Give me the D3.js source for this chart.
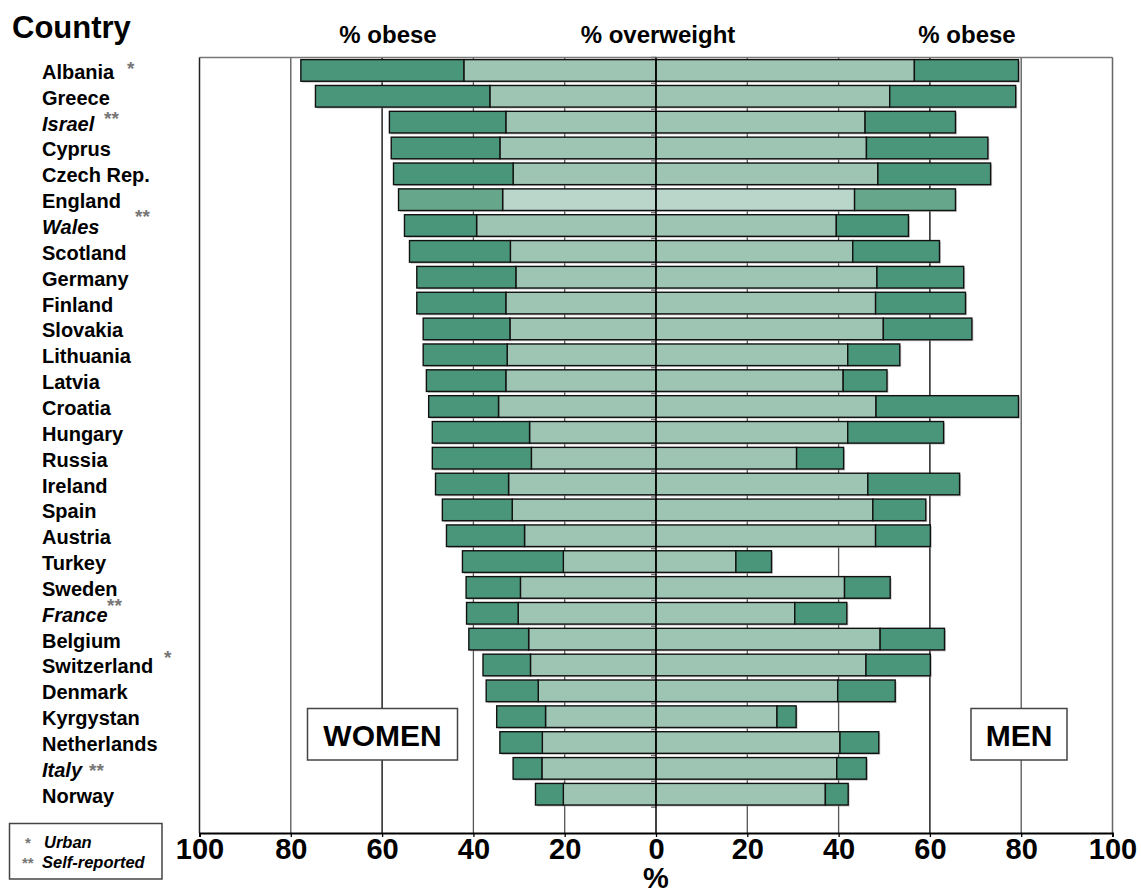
<!DOCTYPE html>
<html>
<head>
<meta charset="utf-8">
<script src="https://cdn.jsdelivr.net/npm/d3@7"></script>
<style>
  html, body { margin: 0; padding: 0; background: #fff; }
  svg { display: block; font-family: "Liberation Sans", Arial, sans-serif; }
</style>
</head>
<body>
<svg id="chart" width="1141" height="893"></svg>
<script>
// ---------- data ----------
const countries = ["Albania","Greece","Israel","Cyprus","Czech Rep.","England","Wales","Scotland","Germany","Finland",
  "Slovakia","Lithuania","Latvia","Croatia","Hungary","Russia","Ireland","Spain","Austria","Turkey",
  "Sweden","France","Belgium","Switzerland","Denmark","Kyrgystan","Netherlands","Italy","Norway"];
const italicCountries = ["Israel","Wales","France","Italy"];
const highlightCountries = ["England"];

const womenOverweight = [42.1,36.4,32.9,34.2,31.3,33.6,39.3,31.9,30.7,32.9,
  32.0,32.6,32.9,34.5,27.7,27.3,32.3,31.5,28.8,20.3,
  29.7,30.2,27.9,27.5,25.8,24.2,24.9,25.0,20.3];
const womenObese = [35.7,38.2,25.5,23.8,26.2,22.8,15.8,22.1,21.7,19.5,
  19.0,18.4,17.4,15.3,21.3,21.7,16.0,15.3,17.1,22.1,
  11.9,11.3,13.1,10.4,11.4,10.7,9.3,6.3,6.1];
const menOverweight = [56.6,51.2,45.8,46.1,48.6,43.5,39.5,43.1,48.4,48.1,
  49.8,42.0,41.0,48.2,42.0,30.8,46.4,47.5,48.1,17.5,
  41.3,30.4,49.1,46.0,39.8,26.5,40.3,39.6,37.1];
const menObese = [22.8,27.6,19.8,26.6,24.7,22.1,15.8,19.0,19.0,19.7,
  19.4,11.4,9.6,31.2,21.0,10.3,20.1,11.6,12.0,7.8,
  10.0,11.4,14.1,14.1,12.6,4.2,8.5,6.5,5.0];
const xTicks = [-100,-80,-60,-40,-20,0,20,40,60,80,100];
const gridValues = [-80,-60,-40,-20,20,40,60,80];

// ---------- setup ----------
const svg = d3.select("#chart");
const plotTop = 57.5, plotBottom = 833, plotLeft = 199.5, plotRight = 1112.5;
const x = d3.scaleLinear().domain([-100, 100]).range([plotLeft, plotRight]);
const slots = d3.range(countries.length + 1);
const y = d3.scaleBand().domain(slots).range([plotTop, plotBottom]).paddingInner(0.164).paddingOuter(0.082);
const bw = y.bandwidth();

const colObese = "#4a967a", colOver = "#9ec4b4";
const colObeseHi = "#66a78b", colOverHi = "#bad6ca";

// gridlines
svg.append("g").selectAll("line").data(gridValues).join("line")
  .attr("x1", d => x(d)).attr("x2", d => x(d))
  .attr("y1", plotTop).attr("y2", plotBottom)
  .attr("stroke", d => Math.abs(d) === 60 ? "#000" : "#555")
  .attr("stroke-width", 1.3);

// frame
svg.append("line").attr("x1", plotLeft).attr("x2", plotRight).attr("y1", plotTop).attr("y2", plotTop).attr("stroke", "#777").attr("stroke-width", 1.5);
svg.append("line").attr("x1", plotRight).attr("x2", plotRight).attr("y1", plotTop).attr("y2", plotBottom).attr("stroke", "#666").attr("stroke-width", 1.5);
svg.append("line").attr("x1", plotLeft).attr("x2", plotLeft).attr("y1", plotTop).attr("y2", plotBottom).attr("stroke", "#222").attr("stroke-width", 1.5);

// center ticks at band boundaries
svg.append("g").selectAll("line").data(d3.range(countries.length + 1)).join("line")
  .attr("x1", x(0) - 5).attr("x2", x(0))
  .attr("y1", i => y(i) - y.step() * 0.082).attr("y2", i => y(i) - y.step() * 0.082)
  .attr("stroke", "#777").attr("stroke-width", 1.5);

// bars
const rows = countries.map((c, i) => ({
  c, i, wo: womenOverweight[i], wb: womenObese[i], mo: menOverweight[i], mb: menObese[i],
  hi: highlightCountries.includes(c)
}));

const g = svg.append("g");
g.selectAll("rect.shadow").data(rows).join("rect")
  .attr("class", "shadow")
  .attr("x", d => x(-(d.wo + d.wb)) + 1.5)
  .attr("y", d => y(d.i) + 1.5)
  .attr("width", d => x(d.mo + d.mb) - x(-(d.wo + d.wb)))
  .attr("height", bw)
  .attr("fill", "#999").attr("opacity", 0.55);

function seg(cls, x0f, x1f, colf) {
  g.selectAll("rect." + cls).data(rows).join("rect")
    .attr("class", cls)
    .attr("x", d => Math.min(x(x0f(d)), x(x1f(d))))
    .attr("y", d => y(d.i))
    .attr("width", d => Math.abs(x(x1f(d)) - x(x0f(d))))
    .attr("height", bw)
    .attr("fill", colf)
    .attr("stroke", "#111").attr("stroke-width", 1.4);
}
seg("wo", d => 0, d => -d.wo, d => d.hi ? colOverHi : colOver);
seg("wb", d => -d.wo, d => -(d.wo + d.wb), d => d.hi ? colObeseHi : colObese);
seg("mo", d => 0, d => d.mo, d => d.hi ? colOverHi : colOver);
seg("mb", d => d.mo, d => d.mo + d.mb, d => d.hi ? colObeseHi : colObese);

// center line
svg.append("line").attr("x1", x(0)).attr("x2", x(0)).attr("y1", plotTop).attr("y2", plotBottom)
  .attr("stroke", "#000").attr("stroke-width", 1.5);

// bottom axis
const axis = d3.axisBottom(x).tickValues(xTicks).tickFormat(d => Math.abs(d)).tickSize(4).tickPadding(1);
const ax = svg.append("g").attr("transform", `translate(0,${plotBottom})`).call(axis);
ax.select(".domain").attr("stroke", "#000").attr("stroke-width", 1.8);
ax.selectAll(".tick line").attr("stroke", "#000").attr("stroke-width", 1.3);
ax.selectAll(".tick text").attr("font-size", 29).attr("font-weight", "bold").attr("fill", "#000")
  .attr("font-family", "Liberation Sans, Arial, sans-serif");

svg.append("text").attr("x", x(0)).attr("y", 888).attr("text-anchor", "middle")
  .attr("font-size", 29).attr("font-weight", "bold").text("%");

// headers
svg.append("text").attr("x", 12).attr("y", 38).attr("font-size", 31).attr("font-weight", "bold").text("Country");
const headers = [{t: "% obese", cx: 388}, {t: "% overweight", cx: 658}, {t: "% obese", cx: 967}];
svg.append("g").selectAll("text").data(headers).join("text")
  .attr("x", d => d.cx).attr("y", 43).attr("text-anchor", "middle")
  .attr("font-size", 24).attr("font-weight", "bold").text(d => d.t);

// country labels
svg.append("g").selectAll("text").data(rows).join("text")
  .attr("x", 42).attr("y", d => y(d.i) + bw / 2 + 8.5)
  .attr("font-size", 20).attr("font-weight", "bold")
  .attr("font-style", d => italicCountries.includes(d.c) ? "italic" : "normal")
  .text(d => d.c);

// markers (asterisks)
const marks = [
  {t: "*", x: 127, y: 75},
  {t: "**", x: 104, y: 125},
  {t: "**", x: 135, y: 223},
  {t: "**", x: 107, y: 612},
  {t: "*", x: 164, y: 664},
  {t: "**", x: 89, y: 777}
];
svg.append("g").selectAll("text").data(marks).join("text")
  .attr("x", d => d.x).attr("y", d => d.y)
  .attr("font-size", 19).attr("font-weight", "bold").attr("fill", "#777").text(d => d.t);

// WOMEN / MEN boxes
const boxes = [{t: "WOMEN", x0: 307.5, x1: 457.5}, {t: "MEN", x0: 971, x1: 1067}];
const bg = svg.append("g").selectAll("g").data(boxes).join("g");
bg.append("rect").attr("x", d => d.x0).attr("y", 708.5).attr("width", d => d.x1 - d.x0).attr("height", 51.5)
  .attr("fill", "#fff").attr("stroke", "#444").attr("stroke-width", 1.5);
bg.append("text").attr("x", d => (d.x0 + d.x1) / 2).attr("y", 746).attr("text-anchor", "middle")
  .attr("font-size", 30).attr("font-weight", "bold").text(d => d.t);

// legend box
svg.append("rect").attr("x", 9.5).attr("y", 823.5).attr("width", 152.5).attr("height", 55.5)
  .attr("fill", "#fff").attr("stroke", "#444").attr("stroke-width", 1.5);
const legendItems = [{m: "*", t: "Urban", mx: 25, tx: 44, y: 848}, {m: "**", t: "Self-reported", mx: 22, tx: 42, y: 868}];
const lg = svg.append("g").selectAll("g").data(legendItems).join("g");
lg.append("text").attr("x", d => d.mx).attr("y", d => d.y).attr("font-size", 15).attr("font-weight", "bold").attr("fill", "#777").text(d => d.m);
lg.append("text").attr("x", d => d.tx).attr("y", d => d.y).attr("font-size", 16.5).attr("font-weight", "bold")
  .attr("font-style", "italic").text(d => d.t);
</script>
</body>
</html>
